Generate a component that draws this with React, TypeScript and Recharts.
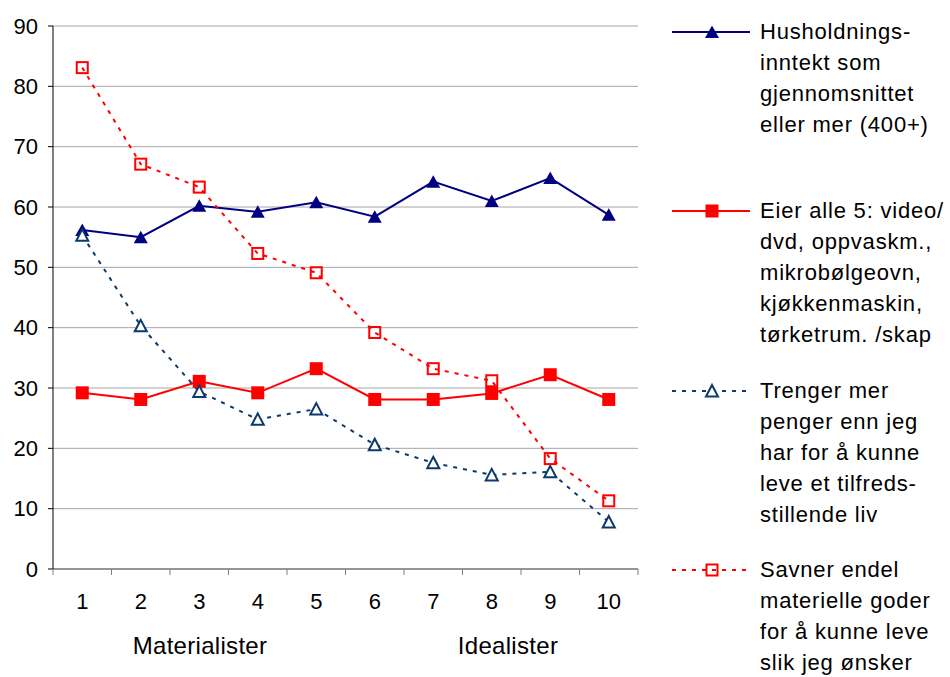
import { LineChart, Line, XAxis, YAxis, CartesianGrid } from "recharts";

// Values
const categories = [1, 2, 3, 4, 5, 6, 7, 8, 9, 10];
const husholdning = [56.2, 55.0, 60.2, 59.2, 60.8, 58.4, 64.2, 61.0, 64.8, 58.7];
const eierAlle5 = [29.2, 28.1, 31.1, 29.2, 33.2, 28.1, 28.1, 29.1, 32.2, 28.1];
const trengerMer = [55.3, 40.3, 29.4, 24.8, 26.5, 20.6, 17.6, 15.6, 16.1, 7.8];
const savnerGoder = [83.1, 67.1, 63.3, 52.3, 49.1, 39.2, 33.2, 31.2, 18.3, 11.3];
const yTicks = [0, 10, 20, 30, 40, 50, 60, 70, 80, 90];
const groupLabels = ["Materialister", "Idealister"];

const legendLabels = [
  ["Husholdnings-", "inntekt som", "gjennomsnittet", "eller mer (400+)"],
  ["Eier alle 5: video/", "dvd, oppvaskm.,", "mikrobølgeovn,", "kjøkkenmaskin,", "tørketrum. /skap"],
  ["Trenger mer", "penger enn jeg", "har for å kunne", "leve et tilfreds-", "stillende liv"],
  ["Savner endel", "materielle goder", "for å kunne leve", "slik jeg ønsker"],
];

const data = categories.map((c, i) => ({
  x: c,
  hus: husholdning[i],
  eier: eierAlle5[i],
  trenger: trengerMer[i],
  savner: savnerGoder[i],
}));

// label ticks on the categories, tick marks between them
const xTicks = [categories[0] - 0.5, ...categories.flatMap((c) => [c, c + 0.5])];

const series = [
  { key: "hus", color: "#000080", shape: "tri", dash: undefined },
  { key: "eier", color: "#FF0000", shape: "sq", dash: undefined },
  { key: "trenger", color: "#0B3A6B", shape: "triOpen", dash: "4 6" },
  { key: "savner", color: "#FF0000", shape: "sqOpen", dash: "4 6" },
];

const FONT = "'Liberation Sans', Arial, sans-serif";

const Marker = ({ cx, cy, shape, color }: any) => {
  if (cx == null || cy == null) return null;
  if (shape === "tri")
    return <path d={`M${cx},${cy - 6.5} L${cx + 7},${cy + 6} L${cx - 7},${cy + 6} Z`} fill={color} />;
  if (shape === "triOpen")
    return (
      <path
        d={`M${cx},${cy - 6} L${cx + 6},${cy + 5.5} L${cx - 6},${cy + 5.5} Z`}
        fill="#fff"
        stroke={color}
        strokeWidth={2}
      />
    );
  if (shape === "sq") return <rect x={cx - 6.5} y={cy - 6.5} width={13} height={13} fill={color} />;
  return <rect x={cx - 5.5} y={cy - 5.5} width={11} height={11} fill="none" stroke={color} strokeWidth={2} />;
};

const XTick = ({ x, y, payload }: any) => {
  const v = payload.value;
  if (Number.isInteger(v))
    return (
      <text x={x} y={y + 40} textAnchor="middle" fontSize={22} fill="#000">
        {v}
      </text>
    );
  return <line x1={x} y1={y} x2={x} y2={y + 6} stroke="#808080" strokeWidth={1} />;
};

export default function App() {
  return (
    <div
      style={{
        position: "absolute",
        left: 0,
        top: 0,
        width: 950,
        height: 677,
        background: "#fff",
        fontFamily: FONT,
        overflow: "hidden",
      }}
    >
      <LineChart
        width={950}
        height={677}
        data={data}
        margin={{ top: 26, right: 312, bottom: 0, left: 0 }}
      >
        <CartesianGrid vertical={false} stroke="#a6a6a6" strokeWidth={1} />
        <XAxis
          dataKey="x"
          type="number"
          domain={[0.5, 10.5]}
          ticks={xTicks}
          interval={0}
          tick={<XTick />}
          tickLine={false}
          tickSize={0}
          tickMargin={0}
          axisLine={{ stroke: "#808080", strokeWidth: 1.5 }}
          height={108}
        />
        <YAxis
          width={53}
          domain={[0, 90]}
          ticks={yTicks}
          interval={0}
          tick={{ fontSize: 22, fill: "#000" }}
          tickSize={5}
          tickMargin={10}
          tickLine={{ stroke: "#000" }}
          axisLine={{ stroke: "#000" }}
        />
        {series.map((s) => (
          <Line
            key={s.key}
            dataKey={s.key}
            type="linear"
            stroke={s.color}
            strokeWidth={2}
            strokeDasharray={s.dash}
            isAnimationActive={false}
            dot={(p: any) => <Marker key={`${s.key}-${p.index}`} cx={p.cx} cy={p.cy} shape={s.shape} color={s.color} />}
            activeDot={false}
          />
        ))}
      </LineChart>

      {/* group labels under the category axis */}
      <div style={{ position: "absolute", left: 200, top: 632, transform: "translateX(-50%)", fontSize: 24, letterSpacing: 0.3 }}>
        {groupLabels[0]}
      </div>
      <div style={{ position: "absolute", left: 508, top: 632, transform: "translateX(-50%)", fontSize: 24, letterSpacing: 0.3 }}>
        {groupLabels[1]}
      </div>

      {/* legend */}
      {series.map((s, i) => {
        const base = 39 + i * 179.3;
        return (
          <div key={s.key}>
            <svg style={{ position: "absolute", left: 672, top: base - 17 }} width={80} height={20}>
              <line x1={0} y1={10} x2={78} y2={10} stroke={s.color} strokeWidth={2} strokeDasharray={s.dash} />
              <Marker cx={40} cy={10} shape={s.shape} color={s.color} />
            </svg>
            <div
              style={{
                position: "absolute",
                left: 760,
                top: base - 23,
                fontSize: 22,
                lineHeight: "31px",
                letterSpacing: 0.8,
                color: "#000",
                whiteSpace: "nowrap",
              }}
            >
              {legendLabels[i].map((t) => (
                <div key={t}>{t}</div>
              ))}
            </div>
          </div>
        );
      })}
    </div>
  );
}
